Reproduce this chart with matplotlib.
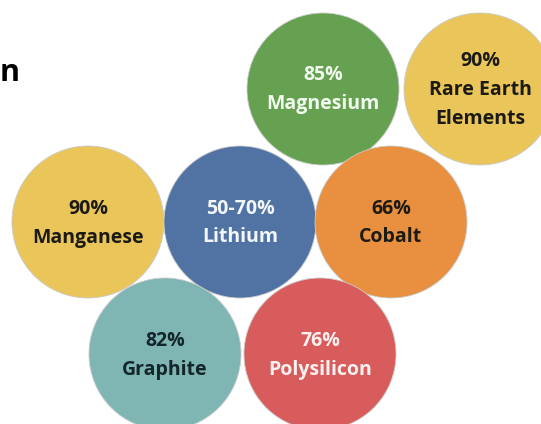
import matplotlib
matplotlib.use("Agg")
import matplotlib.pyplot as plt
from matplotlib.patches import Circle

# Data
materials = ["Magnesium", "Rare Earth\nElements", "Manganese", "Lithium", "Cobalt", "Graphite", "Polysilicon"]
shares = ["85%", "90%", "90%", "50-70%", "66%", "82%", "76%"]

# Layout / style (pixel coordinates of the bubble centres)
centers_x = [323, 480, 88, 240, 391, 165, 320]
centers_y = [89, 89, 222, 222, 222, 354, 354]
radius = 76
fill_colors = ["#65a150", "#eac65a", "#eac65a", "#5073a3", "#e8903f", "#7fb6b4", "#d85c5c"]
text_colors = ["#f2fbef", "#1c1a14", "#1c1a14", "#f3f6fb", "#1c1a14", "#14262a", "#fbf1f1"]

W, H = 541, 424
fig = plt.figure(figsize=(W / 100, H / 100), dpi=100)
ax = fig.add_axes([0, 0, 1, 1])
ax.set_xlim(0, W)
ax.set_ylim(H, 0)
ax.set_aspect("equal")
ax.axis("off")

font = ["Open Sans", "DejaVu Sans"]
line_gap = 29

for name, share, cx, cy, fc, tc in zip(materials, shares, centers_x, centers_y, fill_colors, text_colors):
    ax.add_patch(Circle((cx, cy), radius, facecolor=fc, edgecolor="#c9c9c9", linewidth=0.6))
    lines = [share] + name.split("\n")
    n = len(lines)
    for i, ln in enumerate(lines):
        y = cy + 1 + (i - (n - 1) / 2) * line_gap
        ax.text(cx, y, ln, ha="center", va="center", fontsize=14, fontweight="bold",
                color=tc, family=font)

# Partial title fragment visible at the left edge
ax.text(0, 73, "n", ha="left", va="center", fontsize=22, fontweight="bold",
        color="black", family=font)

fig.savefig("out.png", dpi=100)
